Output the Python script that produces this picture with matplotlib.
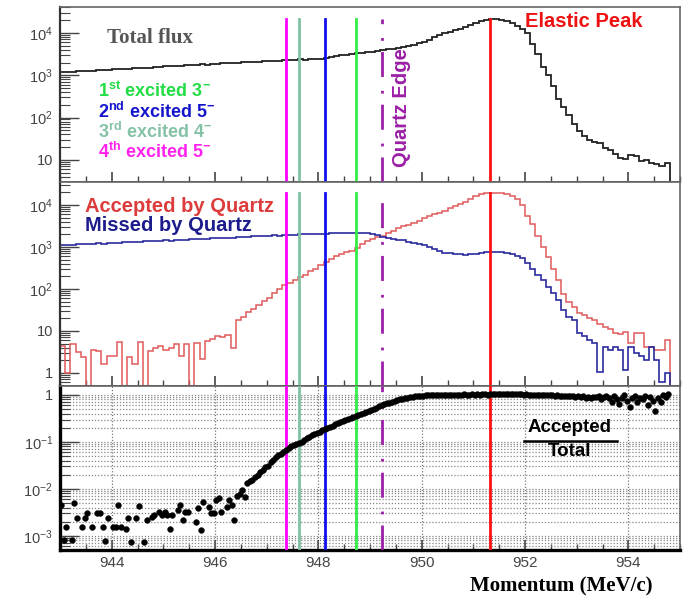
import numpy as np
import matplotlib
matplotlib.use('Agg')
import matplotlib.pyplot as plt
from matplotlib.ticker import LogLocator, FuncFormatter, MultipleLocator, NullFormatter

plt.rcParams['font.family'] = ['Liberation Sans', 'DejaVu Sans']
plt.rcParams['mathtext.fontset'] = 'custom'
plt.rcParams['mathtext.rm'] = 'Liberation Sans'
plt.rcParams['mathtext.bf'] = 'Liberation Sans:bold'
plt.rcParams['mathtext.it'] = 'Liberation Sans:italic'

# ---- data (momentum in MeV/c, 0.1 MeV bins starting at 943.0) ----
total_flux = [
    1180, 1220, 1200, 1250, 1230, 1290, 1270, 1320, 1300, 1360,
    1380, 1370, 1430, 1410, 1470, 1460, 1520, 1500, 1570, 1590,
    1610, 1640, 1620, 1690, 1720, 1700, 1770, 1800, 1790, 1860,
    1870, 1900, 1950, 1930, 2000, 2030, 2020, 2090, 2110, 2150,
    2170, 2200, 2190, 2250, 2290, 2310, 2360, 2340, 2400, 2450,
    2430, 2600, 2720, 2850, 2950, 3050, 3150, 3300, 3380, 3500,
    3640, 3790, 3950, 4100, 4250, 4450, 4700, 4950, 5250, 5700,
    6200, 6900, 7800, 8800, 9700, 10600, 11600, 12700, 14000, 15300,
    16800, 18800, 20500, 21500, 21300, 20500, 19200, 17200, 14800, 12300,
    10000, 5600, 3160, 1580, 1000, 560, 280, 178, 112, 71,
    48, 36, 30, 26, 25, 19, 17, 14, 11, 10.5,
    13, 12.5, 9.5, 10, 8.3, 8, 7, 8.5,
]

accepted = [
    4.5, 1.0, 5.0, 3.2, 2.4, 0, 3.5, 3.3, 1.6, 2.5,
    2.5, 5.5, 0, 2.4, 1.6, 5.5, 0, 3.3, 4.0, 4.5,
    3.5, 4.0, 4.8, 2.5, 5.0, 0, 5.2, 2.2, 5.8, 6.5,
    7.5, 7.0, 8.0, 4.0, 18, 22, 28, 33, 42, 52,
    62, 80, 100, 125, 140, 165, 190, 220, 260, 300,
    370, 440, 520, 600, 680, 740, 780, 950, 1150, 1400,
    1550, 1700, 1800, 2100, 2400, 2800, 3100, 3400, 3700, 4200,
    4800, 5300, 5900, 6500, 7300, 8200, 9300, 10500, 12000, 13500,
    16000, 18500, 19500, 19500, 19500, 19500, 18000, 16000, 13500, 10000,
    5500, 3500, 1800, 1000, 560, 300, 160, 75, 50, 38,
    27, 24, 20, 18, 15, 12.5, 11, 9, 8.5, 9.5,
    5.1, 9, 9, 4.2, 4.2, 3.5, 3.5, 6.2,
]

missed = [
    1100, 1140, 1120, 1160, 1150, 1190, 1170, 1210, 1200, 1240,
    1260, 1240, 1290, 1280, 1320, 1300, 1350, 1370, 1350, 1400,
    1420, 1410, 1460, 1480, 1460, 1520, 1540, 1530, 1580, 1600,
    1590, 1650, 1670, 1660, 1720, 1740, 1720, 1780, 1800, 1790,
    1850, 1870, 1860, 1920, 1950, 1960, 2000, 1980, 2030, 2050,
    2040, 2080, 2100, 2090, 2130, 2140, 2120, 2150, 2130, 2100,
    2000, 1880, 1740, 1640, 1560, 1480, 1420, 1340, 1260, 1180,
    1080, 1000, 900, 780, 730, 700, 680, 660, 650, 660,
    680, 720, 760, 760, 750, 760, 730, 680, 620, 550,
    420, 300, 220, 160, 112, 80, 55, 32, 22, 18,
    9, 7.5, 6, 5.2, 1.05, 4.2, 3.5, 4.2, 3.6, 1.2,
    4.2, 3, 2.5, 2, 4.2, 2, 0.6, 1,
]

# accepted / total, 0.05 MeV bins starting at 943.0 (nan = empty bin)
nan = np.nan
ratio = [
    4.6e-3, 8.1e-4, 1.55e-3, nan, 8.1e-4, 5.0e-3, 2.4e-3, nan, 1.55e-3, 2.4e-3,
    3.1e-3, nan, 1.55e-3, nan, 3.1e-3, 3.0e-3, 1.55e-3, 7.8e-4, 2.4e-3, nan,
    1.55e-3, 1.55e-3, 4.6e-3, 1.55e-3, nan, 1.4e-3, 2.4e-3, 7.4e-4, nan, 2.4e-3,
    4.4e-3, nan, 7.4e-4, 2.2e-3, nan, 2.5e-3, 2.8e-3, nan, 3.2e-3, 2.8e-3,
    3.2e-3, 2.8e-3, 1.4e-3, 2.8e-3, nan, 3.5e-3, 4.6e-3, 2.2e-3, 3.2e-3, 3.2e-3,
    nan, nan, 2.0e-3, 4.0e-3, 1.35e-3, 5.2e-3, nan, 4.2e-3, 3.1e-3, 3.1e-3,
    5.9e-3, 6.5e-3, 3.2e-3, nan, 4.2e-3, 5.9e-3, 4.6e-3, 2.2e-3, 7.0e-3, 7.8e-3,
    9.5e-3, 6.8e-3, 1.35e-2, 1.5e-2, 1.55e-2, 1.8e-2, 2.0e-2, 2.3e-2, 2.5e-2, 2.9e-2,
    3.1e-2, 3.7e-2, 4.2e-2, 4.8e-2, 5.2e-2, 5.6e-2, 6.0e-2, 6.8e-2, 7.3e-2, 8.0e-2,
    8.7e-2, 9.0e-2, 9.5e-2, 0.10, 0.11, 0.123, 0.13, 0.14, 0.15, 0.155,
    0.165, 0.175, 0.19, 0.20, 0.21, 0.22, 0.235, 0.25, 0.26, 0.275,
    0.29, 0.305, 0.32, 0.335, 0.35, 0.37, 0.39, 0.41, 0.43, 0.46,
    0.48, 0.51, 0.54, 0.57, 0.60, 0.63, 0.66, 0.69, 0.72, 0.75,
    0.78, 0.80, 0.83, 0.85, 0.87, 0.89, 0.91, 0.93, 0.95, 0.96,
    0.97, 0.98, 0.99, 1.00, 1.00, 1.01, 1.00, 1.01, 1.02, 1.01,
    1.01, 1.02, 1.02, 1.01, 1.02, 1.02, 1.03, 1.02, 1.02, 1.03,
    1.02, 1.03, 1.02, 1.03, 1.03, 1.02, 1.03, 1.04, 1.03, 1.03,
    1.04, 1.03, 1.04, 1.05, 1.04, 1.03, 1.04, 1.03, 1.03, 1.02,
    1.03, 1.02, 1.02, 1.01, 1.01, 1.00, 1.00, 0.99, 0.99, 0.98,
    0.98, 0.97, 0.98, 0.96, 0.97, 0.95, 0.96, 0.93, 0.95, 0.92,
    0.94, 0.90, 0.93, 0.88, 0.92, 0.85, 0.91, 0.89, 0.95, 0.82,
    0.90, 0.97, 0.88, 0.72, 0.93, 0.80, 0.65, 0.88, 0.98, 0.75,
    0.55, 0.85, 0.93, 0.70, 0.88, 0.80, 0.95, 0.62, 0.90, 0.75,
    0.45, 0.85, 0.70, 1.00, 0.92, 1.05,
]

# excited states, quartz edge and elastic peak positions (MeV/c)
level_pos = [948.73, 948.12, 947.62, 947.38]
level_colors = ['#33ee44', '#1010ee', '#80c2a2', '#ff00ff']
level_text_colors = ['#22dd44', '#1515cc', '#85c2a5', '#ff22ee']
level_labels = [r'1$^{\mathbf{st}}$ excited 3$^{\mathbf{-}}$',
                r'2$^{\mathbf{nd}}$ excited 5$^{\mathbf{-}}$',
                r'3$^{\mathbf{rd}}$ excited 4$^{\mathbf{-}}$',
                r'4$^{\mathbf{th}}$ excited 5$^{\mathbf{-}}$']
quartz_edge = 949.24
elastic_peak = 951.32

# ---- figure ----
W, H = 690, 596
fig = plt.figure(figsize=(W / 100, H / 100), dpi=100)


def box(top, bottom):
    return [60 / W, 1 - bottom / H, 620 / W, (bottom - top) / H]


def fpos(x, y):
    return x / W, 1 - y / H


ax_top = fig.add_axes(box(7, 182))
ax_mid = fig.add_axes(box(182, 386), sharex=ax_top)
ax_bot = fig.add_axes(box(386, 550), sharex=ax_top)
axes = [ax_top, ax_mid, ax_bot]

edges = 943.0 + 0.1 * np.arange(len(total_flux) + 1)
acc = np.array(accepted, dtype=float)
mis = np.array(missed, dtype=float)
ratio_x = 943.025 + 0.05 * np.arange(len(ratio))

ax_top.stairs(total_flux, edges, baseline=1e-3, color='#222222', lw=1.3, zorder=2)
ax_mid.stairs(np.where(acc > 0, acc, 1e-3), edges, baseline=1e-3,
              color='#e05a5a', lw=1.1, zorder=2)
ax_mid.stairs(np.where(mis > 0, mis, 1e-3), edges, baseline=1e-3,
              color='#2b2b9e', lw=1.2, zorder=2)
ax_bot.plot(ratio_x, ratio, 'o', color='black', ms=4.2, mec='black', mew=0.3, zorder=4)

for ax, top in ((ax_top, 0.931), (ax_mid, 0.946), (ax_bot, 1.0)):
    for x, c in zip(level_pos, level_colors):
        ax.axvline(x, ymax=top, color=c, lw=2, zorder=3)
    ax.axvline(quartz_edge, ymax=top, color='#9b1fa6', lw=2, dashes=(9, 4, 1, 5), zorder=3)
    ax.axvline(elastic_peak, ymax=top, color='#ff1010', lw=2, zorder=3)


def log_label(v, pos):
    e = int(round(np.log10(v)))
    if e == 0:
        return '1'
    if e == 1:
        return '10'
    return r'$10^{%d}$' % e


for ax in axes:
    ax.set_yscale('log')
    ax.set_xlim(943.0, 955.0)
    ax.xaxis.set_major_locator(MultipleLocator(2))
    ax.xaxis.set_minor_locator(MultipleLocator(0.5))
    ax.yaxis.set_major_locator(LogLocator(base=10, numticks=20))
    ax.yaxis.set_minor_locator(LogLocator(base=10, subs=np.arange(2, 10), numticks=20))
    ax.yaxis.set_major_formatter(FuncFormatter(log_label))
    ax.yaxis.set_minor_formatter(NullFormatter())
    ax.tick_params(which='both', direction='in', colors='#444444', labelsize=10.5)
    ax.tick_params(axis='y', which='major', length=14, width=1, pad=5)
    ax.tick_params(axis='y', which='minor', length=7, width=0.8)
    ax.tick_params(axis='x', which='major', length=7, width=1.2, pad=4, labelsize=11)
    ax.tick_params(axis='x', which='minor', length=4, width=1)
    for s in ax.spines.values():
        s.set_color('#666666')
        s.set_linewidth(1.2)
    ax.spines['left'].set_color('#333333')
    ax.spines['left'].set_linewidth(1.6)
    ax.spines['bottom'].set_color('#333333')

ax_top.tick_params(labelbottom=False)
ax_mid.tick_params(labelbottom=False)
ax_top.set_ylim(3.0, 4.1e4)
ax_mid.set_ylim(0.49, 3.5e4)
ax_bot.set_ylim(5.0e-4, 1.55)

ax_bot.grid(True, which='both', axis='y', color='#888888', ls=(0, (1, 1.5)), lw=0.9)
ax_bot.grid(True, which='major', axis='x', color='#777777', ls=(0, (1, 1.5)), lw=0.9)
ax_bot.set_axisbelow(True)
ax_bot.spines['left'].set_color('black')
ax_bot.spines['left'].set_linewidth(2.4)
ax_bot.spines['bottom'].set_color('black')
ax_bot.spines['bottom'].set_linewidth(2.4)

# ---- texts ----
fig.text(*fpos(107, 43), 'Total flux', family=['Liberation Serif', 'DejaVu Serif'],
         weight='bold', size=15, color='#555555', va='baseline')
for k, (lab, c) in enumerate(zip(level_labels, level_text_colors)):
    fig.text(*fpos(98, 97 + 20.5 * k), lab, weight='bold', size=13, color=c, va='baseline')
fig.text(*fpos(525, 27), 'Elastic Peak', weight='bold', size=14.5, color='#ee1111', va='baseline')
fig.text(*fpos(401, 108), 'Quartz Edge', weight='bold', size=14.5, color='#9b1fa6',
         rotation=90, ha='center', va='center')
fig.text(*fpos(85, 212), 'Accepted by Quartz', weight='bold', size=14.5, color='#dd3c3c', va='baseline')
fig.text(*fpos(85, 231), 'Missed by Quartz', weight='bold', size=14.5, color='#1c1c8c', va='baseline')

fig.text(*fpos(570, 427), 'Accepted', weight='bold', size=13.5, color='black', ha='center', va='center')
fig.text(*fpos(570, 451), 'Total', weight='bold', size=13.5, color='black', ha='center', va='center')
fig.add_artist(plt.Line2D([524 / W, 617 / W], [1 - 441 / H, 1 - 441 / H], color='black', lw=1.8))

fig.text(*fpos(653, 591), 'Momentum (MeV/c)', family=['Liberation Serif', 'DejaVu Serif'],
         weight='bold', size=15, color='black', ha='right', va='baseline')

fig.savefig('out.png', dpi=100)
